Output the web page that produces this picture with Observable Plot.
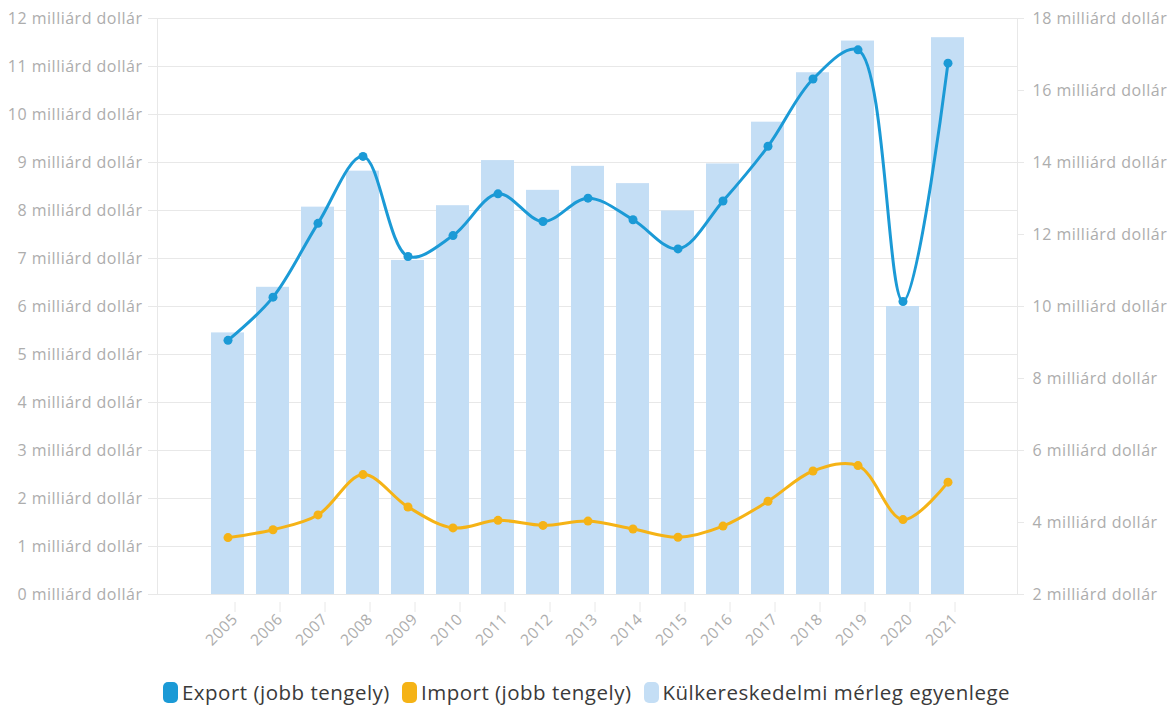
<!DOCTYPE html>
<html>
<head>
<meta charset="utf-8">
<script src="https://cdn.jsdelivr.net/npm/d3@7"></script>
<script src="https://cdn.jsdelivr.net/npm/@observablehq/plot@0.6"></script>
<style>
  html, body { margin: 0; padding: 0; background: #fff; }
  body { width: 1173px; height: 709px; overflow: hidden; font-family: "Open Sans", Lato, sans-serif; }
  #legend { display: flex; justify-content: center; align-items: center; gap: 12px; height: 44px; font-size: 20.5px; letter-spacing: 0.5px; color: #3a3a3a; }
  #legend .item { display: flex; align-items: center; gap: 4px; }
  #legend .sw { width: 15px; height: 21px; border-radius: 5px; display: inline-block; }
</style>
</head>
<body>
<div id="chart"></div>
<div id="legend"></div>
<script>
const years = [2005, 2006, 2007, 2008, 2009, 2010, 2011, 2012, 2013, 2014, 2015, 2016, 2017, 2018, 2019, 2020, 2021];
// Külkereskedelmi mérleg egyenlege (left axis, billion USD)
const balance = [5.45, 6.40, 8.07, 8.82, 6.96, 8.10, 9.04, 8.42, 8.92, 8.56, 7.99, 8.97, 9.84, 10.87, 11.53, 6.00, 11.60];
// Export (right axis, billion USD)
const exportVals = [9.06, 10.26, 12.31, 14.17, 11.39, 11.97, 13.13, 12.36, 13.01, 12.41, 11.60, 12.93, 14.45, 16.32, 17.13, 10.14, 16.76];
// Import (right axis, billion USD)
const importVals = [3.58, 3.80, 4.21, 5.33, 4.43, 3.85, 4.06, 3.92, 4.04, 3.82, 3.59, 3.90, 4.59, 5.43, 5.58, 4.08, 5.12];

const leftTicks = [0, 1, 2, 3, 4, 5, 6, 7, 8, 9, 10, 11, 12];
const rightTicks = [2, 4, 6, 8, 10, 12, 14, 16, 18];
const unit = " milliárd dollár";

const colors = { export: "#1b9ad6", import: "#f5b316", balance: "#c4def5" };
const legendLabels = ["Export (jobb tengely)", "Import (jobb tengely)", "Külkereskedelmi mérleg egyenlege"];

// right-axis value -> left-axis scale
const toLeft = r => (r - 2) * 0.75;
const fromLeft = l => l / 0.75 + 2;

const rows = years.map((y, i) => ({ year: y, balance: balance[i], exp: exportVals[i], imp: importVals[i] }));

const grid = "#e8e8e8";
const textCol = "#adadad";

const chart = Plot.plot({
  width: 1173,
  height: 670,
  marginLeft: 157,
  marginRight: 156,
  marginTop: 18,
  marginBottom: 76,
  style: { fontFamily: "'Open Sans', Lato, sans-serif", background: "#fff", letterSpacing: "0.5px" },
  x: { type: "band", domain: years, paddingInner: 0.27, paddingOuter: 1.135, align: 0.5 },
  y: { domain: [0, 12] },
  marks: [
    Plot.gridY({ ticks: leftTicks, stroke: grid, strokeOpacity: 1 }),
    Plot.frame({ anchor: "left", stroke: grid }),
    Plot.frame({ anchor: "right", stroke: grid }),
    Plot.barY(rows, { x: "year", y: "balance", fill: colors.balance }),
    Plot.axisY({ anchor: "left", ticks: leftTicks, tickSize: 9, stroke: grid, fill: textCol, fontSize: 16, tickPadding: 6, tickFormat: d => d + unit, label: null }),
    Plot.axisY({ anchor: "right", ticks: rightTicks.map(toLeft), tickSize: 6, stroke: grid, fill: textCol, fontSize: 16, tickPadding: 9, tickFormat: d => Math.round(fromLeft(d)) + unit, label: null }),
    Plot.axisX({ ticks: years, tickSize: 10, stroke: grid, fill: textCol, fontSize: 15.5, tickRotate: -45, tickPadding: 4, dx: 7, dy: 8, tickFormat: d => String(d), label: null }),
    Plot.ruleY([0], { stroke: grid }),
    Plot.line(rows, { x: "year", y: d => toLeft(d.imp), stroke: colors.import, strokeWidth: 3, curve: "catmull-rom" }),
    Plot.dot(rows, { x: "year", y: d => toLeft(d.imp), fill: colors.import, r: 4.5 }),
    Plot.line(rows, { x: "year", y: d => toLeft(d.exp), stroke: colors.export, strokeWidth: 3, curve: "catmull-rom" }),
    Plot.dot(rows, { x: "year", y: d => toLeft(d.exp), fill: colors.export, r: 4.5 })
  ]
});
document.getElementById("chart").appendChild(chart);

const legend = document.getElementById("legend");
[colors.export, colors.import, colors.balance].forEach((c, i) => {
  const item = document.createElement("div");
  item.className = "item";
  const sw = document.createElement("span");
  sw.className = "sw";
  sw.style.background = c;
  const t = document.createElement("span");
  t.textContent = legendLabels[i];
  item.appendChild(sw);
  item.appendChild(t);
  legend.appendChild(item);
});
</script>
</body>
</html>
